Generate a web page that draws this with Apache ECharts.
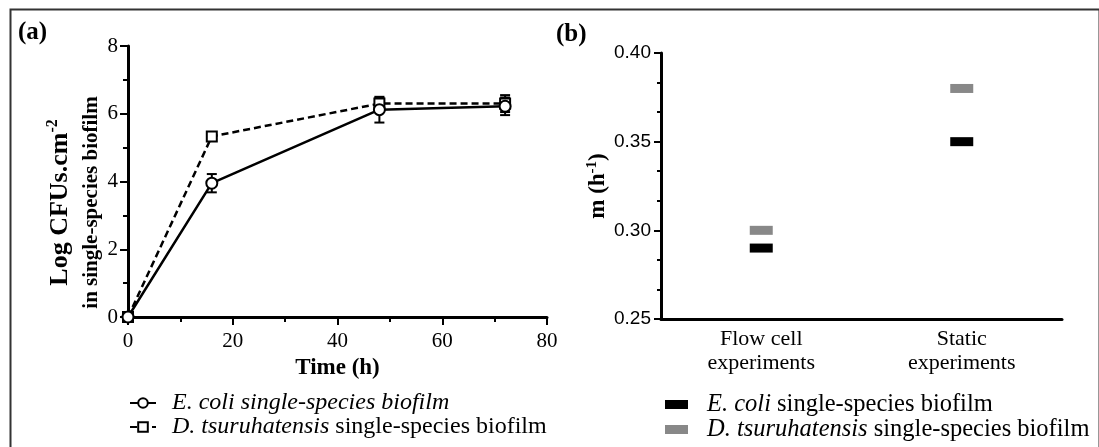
<!DOCTYPE html>
<html>
<head>
<meta charset="utf-8">
<script src="https://cdn.jsdelivr.net/npm/echarts@6/dist/echarts.min.js"></script>
<style>
  html, body { margin: 0; padding: 0; background: #fff; }
  #chart { width: 1099px; height: 447px; }
</style>
</head>
<body>
<div id="chart"></div>
<script>
// ---- Panel (a): growth curves ----
const timeH = [0, 16, 48, 72];
const ecoliLog = [0, 3.95, 6.12, 6.22];
const ecoliLogErr = [0, 0.27, 0.38, 0.26];
const dtsuLog = [0, 5.33, 6.30, 6.30];
const dtsuLogErr = [0, 0.08, 0.17, 0.25];
const timeAxis = { min: 0, max: 80, interval: 20 };
const logAxis = { min: 0, max: 8, interval: 2 };

// ---- Panel (b): growth rates ----
const rateCategories = ['Flow cell\nexperiments', 'Static\nexperiments'];
const ecoliRate = [0.29, 0.35];
const dtsuRate = [0.30, 0.38];
const rateAxis = { min: 0.25, max: 0.40, interval: 0.05 };

const nameEcoliA = 'E. coli single-species biofilm';
const nameDtsuA = 'D. tsuruhatensis single-species biofilm';
const nameEcoliB = 'E. coli single-species biofilm ';
const nameDtsuB = 'D. tsuruhatensis single-species biofilm ';

const SERIF = '"Liberation Serif", "Times New Roman", serif';
const SANS = '"Liberation Sans", Arial, sans-serif';

function pairs(xs, ys) { return xs.map((x, i) => [x, ys[i]]); }
function errData(xs, ys, es) {
  return xs.map((x, i) => [x, ys[i] - es[i], ys[i] + es[i], es[i]]);
}
function errorBarRender(params, api) {
  if (api.value(3) <= 0) return null;
  const x = api.value(0);
  const lo = api.coord([x, api.value(1)]);
  const hi = api.coord([x, api.value(2)]);
  const w = 5;
  const st = { stroke: '#000', lineWidth: 2 };
  return {
    type: 'group',
    children: [
      { type: 'line', shape: { x1: lo[0], y1: lo[1], x2: hi[0], y2: hi[1] }, style: st },
      { type: 'line', shape: { x1: hi[0] - w, y1: hi[1], x2: hi[0] + w, y2: hi[1] }, style: st },
      { type: 'line', shape: { x1: lo[0] - w, y1: lo[1], x2: lo[0] + w, y2: lo[1] }, style: st }
    ]
  };
}

const axisLineStyle = { show: true, lineStyle: { color: '#000', width: 3 } };

const chart = echarts.init(document.getElementById('chart'));
chart.setOption({
  backgroundColor: '#fff',
  animation: false,
  graphic: [
    { type: 'rect', left: 8, top: 7, shape: { width: 1089, height: 460 },
      style: { fill: 'none', stroke: '#333', lineWidth: 2 }, silent: true },
    { type: 'text', left: 18, top: 20,
      style: { text: '(a)', font: 'bold 25px ' + SERIF, fill: '#000' } },
    { type: 'text', left: 556, top: 22,
      style: { text: '(b)', font: 'bold 25px ' + SERIF, fill: '#000' } }
  ],
  grid: [
    { left: 128, top: 46, width: 419, height: 271 },
    { left: 661, top: 53, width: 401, height: 266 }
  ],
  xAxis: [
    {
      gridIndex: 0, type: 'value', min: timeAxis.min, max: timeAxis.max, interval: timeAxis.interval,
      axisLine: axisLineStyle,
      axisTick: { show: true, length: 8, lineStyle: { color: '#000', width: 2 } },
      minorTick: { show: true, splitNumber: 2, length: 5, lineStyle: { color: '#000', width: 2 } },
      splitLine: { show: false },
      axisLabel: { color: '#000', fontFamily: SERIF, fontSize: 21, margin: 14 },
      name: 'Time (h)', nameLocation: 'middle', nameGap: 34,
      nameTextStyle: { color: '#000', fontFamily: SERIF, fontWeight: 'bold', fontSize: 23 }
    },
    {
      gridIndex: 1, type: 'category', data: rateCategories, boundaryGap: true,
      axisLine: axisLineStyle,
      axisTick: { show: false },
      splitLine: { show: false },
      axisLabel: { color: '#000', fontFamily: SERIF, fontSize: 22, lineHeight: 24, margin: 8 }
    }
  ],
  yAxis: [
    {
      gridIndex: 0, type: 'value', min: logAxis.min, max: logAxis.max, interval: logAxis.interval,
      axisLine: axisLineStyle,
      axisTick: { show: true, length: 8, lineStyle: { color: '#000', width: 2 } },
      minorTick: { show: true, splitNumber: 2, length: 5, lineStyle: { color: '#000', width: 2 } },
      splitLine: { show: false },
      axisLabel: { color: '#000', fontFamily: SERIF, fontSize: 21, margin: 10 },
      name: '{a|Log CFUs.cm}{s|-2}\n{b|in single-species biofilm}',
      nameLocation: 'middle', nameRotate: 90, nameGap: 21,
      nameTextStyle: {
        color: '#000', fontFamily: SERIF, fontWeight: 'bold', fontSize: 21, align: 'center',
        padding: [0, 42, 0, 0],
        rich: {
          a: { fontFamily: SERIF, fontWeight: 'bold', fontSize: 26, color: '#000', lineHeight: 31 },
          s: { fontFamily: SERIF, fontWeight: 'bold', fontSize: 16, color: '#000', verticalAlign: 'top', lineHeight: 31 },
          b: { fontFamily: SERIF, fontWeight: 'bold', fontSize: 21, color: '#000', lineHeight: 31 }
        }
      }
    },
    {
      gridIndex: 1, type: 'value', min: rateAxis.min, max: rateAxis.max, interval: rateAxis.interval,
      axisLine: axisLineStyle,
      axisTick: { show: true, length: 7, lineStyle: { color: '#000', width: 2 } },
      minorTick: { show: true, splitNumber: 3, length: 4, lineStyle: { color: '#000', width: 2 } },
      splitLine: { show: false },
      axisLabel: { color: '#000', fontFamily: SANS, fontSize: 19, margin: 10,
        formatter: v => v.toFixed(2) },
      name: '{a|m (h}{s|-1}{a|)}',
      nameLocation: 'middle', nameRotate: 90, nameGap: 50,
      nameTextStyle: {
        color: '#000', fontFamily: SERIF, fontWeight: 'bold', fontSize: 23, align: 'center',
        rich: {
          a: { fontFamily: SERIF, fontWeight: 'bold', fontSize: 23, color: '#000', lineHeight: 26 },
          s: { fontFamily: SERIF, fontWeight: 'bold', fontSize: 15, color: '#000', verticalAlign: 'top', lineHeight: 26 }
        }
      }
    }
  ],
  legend: [
    {
      orient: 'vertical', left: 129, top: 391, padding: 0, itemWidth: 26, itemHeight: 12, itemGap: 0,
      data: [nameEcoliA, nameDtsuA],
      selectedMode: false,
      formatter: n => n === nameEcoliA
        ? '{i|E. coli single-species biofilm}'
        : '{i|D. tsuruhatensis}{n| single-species biofilm}',
      textStyle: {
        padding: [0, 0, 0, 11],
        rich: {
          i: { fontFamily: SERIF, fontStyle: 'italic', fontSize: 24, color: '#000', lineHeight: 23 },
          n: { fontFamily: SERIF, fontSize: 24, color: '#000', lineHeight: 23 }
        }
      }
    },
    {
      orient: 'vertical', left: 665, top: 392, padding: 0, itemWidth: 23, itemHeight: 9, itemGap: 0, icon: 'rect',
      data: [nameEcoliB, nameDtsuB],
      selectedMode: false,
      formatter: n => n === nameEcoliB
        ? '{i|E. coli}{n| single-species biofilm}'
        : '{i|D. tsuruhatensis}{n| single-species biofilm}',
      textStyle: {
        padding: [0, 0, 0, 14],
        rich: {
          i: { fontFamily: SERIF, fontStyle: 'italic', fontSize: 24.5, color: '#000', lineHeight: 23 },
          n: { fontFamily: SERIF, fontSize: 24.5, color: '#000', lineHeight: 23 }
        }
      }
    }
  ],
  series: [
    {
      name: 'ecoliErr', type: 'custom', xAxisIndex: 0, yAxisIndex: 0, z: 1,
      renderItem: errorBarRender, encode: { x: 0, y: [1, 2] },
      data: errData(timeH, ecoliLog, ecoliLogErr)
    },
    {
      name: 'dtsuErr', type: 'custom', xAxisIndex: 0, yAxisIndex: 0, z: 1,
      renderItem: errorBarRender, encode: { x: 0, y: [1, 2] },
      data: errData(timeH, dtsuLog, dtsuLogErr)
    },
    {
      name: nameDtsuA, type: 'line', xAxisIndex: 0, yAxisIndex: 0, z: 3,
      data: pairs(timeH, dtsuLog),
      symbol: 'emptyRect', symbolSize: 10,
      itemStyle: { color: '#000', borderColor: '#000', borderWidth: 1.5 },
      lineStyle: { color: '#000', width: 2.5, type: [7, 4] }
    },
    {
      name: nameEcoliA, type: 'line', xAxisIndex: 0, yAxisIndex: 0, z: 4,
      data: pairs(timeH, ecoliLog),
      symbol: 'emptyCircle', symbolSize: 11,
      itemStyle: { color: '#000', borderColor: '#000', borderWidth: 1.5 },
      lineStyle: { color: '#000', width: 2.5, type: 'solid' }
    },
    {
      name: nameEcoliB, type: 'scatter', xAxisIndex: 1, yAxisIndex: 1,
      data: ecoliRate, symbol: 'rect', symbolSize: [23, 9],
      itemStyle: { color: '#000', opacity: 1 }
    },
    {
      name: nameDtsuB, type: 'scatter', xAxisIndex: 1, yAxisIndex: 1,
      data: dtsuRate, symbol: 'rect', symbolSize: [23, 9],
      itemStyle: { color: '#888888', opacity: 1 }
    }
  ]
});
</script>
</body>
</html>
